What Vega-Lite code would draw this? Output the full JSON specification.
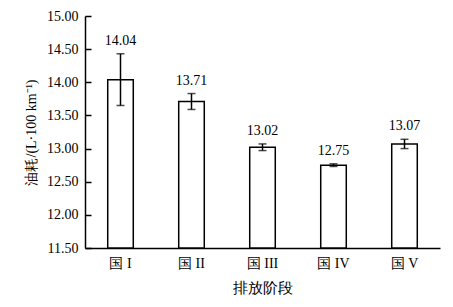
{
  "$schema": "https://vega.github.io/schema/vega-lite/v6.json",
  "width": 355,
  "height": 232,
  "autosize": {"type": "none"},
  "padding": {"left": 85, "top": 16, "right": 13, "bottom": 59},
  "background": "white",
  "config": {
    "view": {"stroke": null},
    "font": "Liberation Serif",
    "axis": {
      "labelFont": "Liberation Serif",
      "titleFont": "Liberation Serif",
      "labelColor": "black",
      "titleColor": "black",
      "domainColor": "black",
      "tickColor": "black",
      "grid": false,
      "labelOverlap": false,
      "titleFontWeight": "normal"
    }
  },
  "resolve": {"axis": {"y": "independent"}},
  "data": {
    "values": [
      {"stage": "国 I", "mean": 14.04, "lo": 13.65, "hi": 14.43},
      {"stage": "国 II", "mean": 13.71, "lo": 13.59, "hi": 13.83},
      {"stage": "国 III", "mean": 13.02, "lo": 12.97, "hi": 13.07},
      {"stage": "国 IV", "mean": 12.75, "lo": 12.73, "hi": 12.77},
      {"stage": "国 V", "mean": 13.07, "lo": 13.0, "hi": 13.14}
    ]
  },
  "encoding": {
    "x": {
      "field": "stage",
      "type": "nominal",
      "sort": null,
      "scale": {"paddingInner": 0.64, "paddingOuter": 0.32},
      "axis": {
        "title": "排放阶段",
        "titleFontSize": 15,
        "titlePadding": 10,
        "labelAngle": 0,
        "labelFontSize": 14,
        "labelPadding": 8,
        "ticks": false,
        "domainWidth": 1.5
      }
    }
  },
  "layer": [
    {
      "mark": {"type": "bar", "fill": "white", "stroke": "black", "strokeWidth": 1.5},
      "encoding": {
        "y": {
          "field": "mean",
          "type": "quantitative",
          "scale": {"domain": [11.5, 15], "zero": false, "nice": false},
          "axis": {
            "title": "油耗/(L·100 km⁻¹)",
            "titleFontSize": 14,
            "titlePadding": 8,
            "values": [11.5, 12, 12.5, 13, 13.5, 14, 14.5, 15],
            "format": ".2f",
            "labelFontSize": 14,
            "labelOverlap": false,
            "tickSize": -6,
            "tickWidth": 1.5,
            "domainWidth": 1.5,
            "labelPadding": 13
          }
        },
        "y2": {"datum": 11.5}
      }
    },
    {
      "mark": {"type": "rule", "color": "black", "strokeWidth": 1.5},
      "encoding": {
        "y": {"field": "lo", "type": "quantitative", "axis": null},
        "y2": {"field": "hi"}
      }
    },
    {
      "mark": {"type": "tick", "color": "black", "thickness": 1.5, "size": 8},
      "encoding": {"y": {"field": "lo", "type": "quantitative", "axis": null}}
    },
    {
      "mark": {"type": "tick", "color": "black", "thickness": 1.5, "size": 8},
      "encoding": {"y": {"field": "hi", "type": "quantitative", "axis": null}}
    },
    {
      "mark": {"type": "text", "baseline": "bottom", "dy": -6, "fontSize": 14, "color": "black"},
      "encoding": {
        "y": {"field": "hi", "type": "quantitative", "axis": null},
        "text": {"field": "mean", "type": "quantitative", "format": ".2f"}
      }
    }
  ]
}
